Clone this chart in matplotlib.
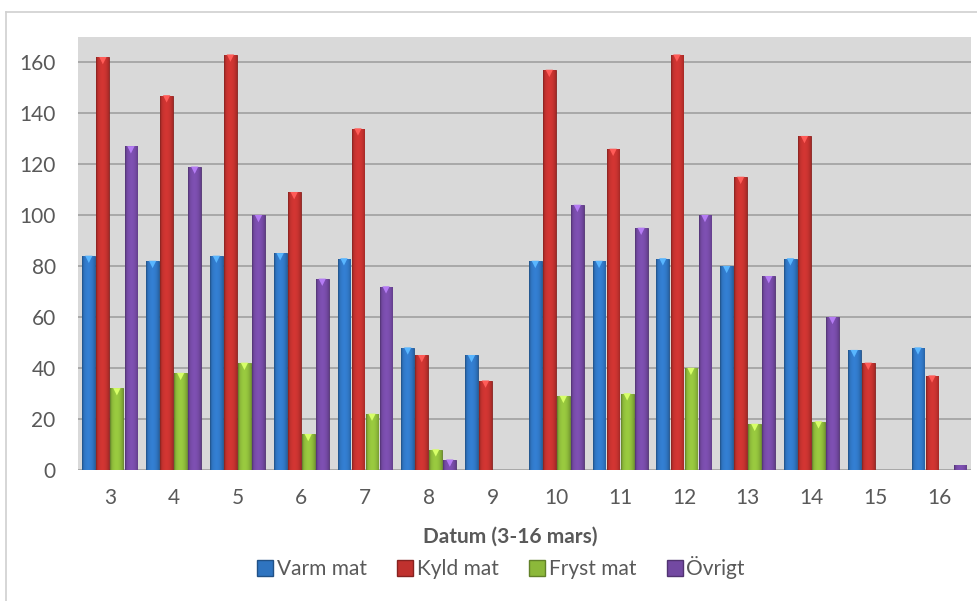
import matplotlib
matplotlib.use("Agg")
import matplotlib.pyplot as plt
import numpy as np
from matplotlib.lines import Line2D
from matplotlib.colors import to_rgb

# ------------------------------------------------------------
# Data
# ------------------------------------------------------------
days = ["3", "4", "5", "6", "7", "8", "9", "10", "11", "12", "13", "14", "15", "16"]
varm_mat = [84, 82, 84, 85, 83, 48, 45, 82, 82, 83, 80, 83, 47, 48]
kyld_mat = [162, 147, 163, 109, 134, 45, 35, 157, 126, 163, 115, 131, 42, 37]
fryst_mat = [32, 38, 42, 14, 22, 8, np.nan, 29, 30, 40, 18, 19, np.nan, np.nan]
ovrigt = [127, 119, 100, 75, 72, 4, np.nan, 104, 95, 100, 76, 60, np.nan, 2]

series = ["Varm mat", "Kyld mat", "Fryst mat", "Övrigt"]
colors = ["#2F74C0", "#C0312E", "#8CB83A", "#7349A2"]

plt.rcParams["font.family"] = ["Lato", "DejaVu Sans"]
TXT = "#595959"
FS = 15


def shaded_bar(ax, bar, color):
    """Paint a cylinder-like horizontal gradient inside a bar patch."""
    x0, y0 = bar.get_x(), bar.get_y()
    w, h = bar.get_width(), bar.get_height()
    if h <= 0:
        return
    t = np.linspace(0, 1, 32)
    prof = 0.74 + 0.36 * np.sin(np.pi * (t * 0.9 + 0.05)) ** 0.6
    prof[:3] *= 0.85
    base = np.array(to_rgb(color))
    img = np.clip(base[None, None, :] * prof[None, :, None], 0, 1)
    im = ax.imshow(img, extent=[x0, x0 + w, y0, y0 + h], aspect="auto",
                   interpolation="bilinear", zorder=3)
    im.set_clip_path(bar)


fig = plt.figure(figsize=(9.77, 6.01), dpi=100)
ax = fig.add_axes([0.0798, 0.218, 0.914, 0.7205])
ax.set_facecolor("#D9D9D9")

x = np.arange(len(days))
step = 0.22
width = 0.20
all_vals = [varm_mat, kyld_mat, fryst_mat, ovrigt]

for i, (name, vals, col) in enumerate(zip(series, all_vals, colors)):
    pos = x + (i - 1.5) * step
    vals = np.array(vals, dtype=float)
    ok = ~np.isnan(vals)
    bars = ax.bar(pos[ok], vals[ok], width, color=col, edgecolor=np.array(to_rgb(col)) * 0.7,
                  linewidth=0.6, zorder=2, label=name)
    for b in bars:
        shaded_bar(ax, b, col)
    # light chevron at top of each bar
    light = np.clip(np.array(to_rgb(col)) * 1.35 + 0.1, 0, 1)
    tops = vals[ok]
    ax.scatter(pos[ok][tops > 3], tops[tops > 3] - 1.3, marker="v", s=28,
               color=light, edgecolors="none", zorder=4)

ax.set_xlim(-0.5, len(days) - 0.5)
ax.set_ylim(0, 170)
ax.set_yticks(np.arange(0, 161, 20))
ax.set_xticks(x)
ax.set_xticklabels(days)
ax.yaxis.grid(True, color="#A0A0A0", linewidth=1.2, zorder=1)
ax.set_axisbelow(True)
for s in ax.spines.values():
    s.set_visible(False)
ax.tick_params(axis="both", length=0, labelsize=FS, colors=TXT)
ax.tick_params(axis="x", pad=13)
ax.tick_params(axis="y", pad=16)
ax.set_xlabel("Datum (3-16 mars)", fontsize=FS, fontweight="bold", color=TXT)
ax.xaxis.set_label_coords(0.484, -0.132)

handles = [Line2D([], [], marker="s", linestyle="none", markersize=12,
                  markerfacecolor=c, markeredgecolor=np.array(to_rgb(c)) * 0.7)
           for c in colors]
fig.legend(handles, series, loc="center", bbox_to_anchor=(0.512, 0.055), ncol=4,
           frameon=False, fontsize=FS, labelcolor=TXT, handletextpad=0.1,
           columnspacing=1.4, handlelength=0.9)

# outer chart border
fig.add_artist(Line2D([6 / 977, 6 / 977], [0, 1 - 12 / 601], transform=fig.transFigure,
                      color="#D0D0D0", linewidth=1.2))
fig.add_artist(Line2D([6 / 977, 1], [1 - 12 / 601, 1 - 12 / 601], transform=fig.transFigure,
                      color="#D0D0D0", linewidth=1.2))

fig.savefig("out.png", dpi=100)
